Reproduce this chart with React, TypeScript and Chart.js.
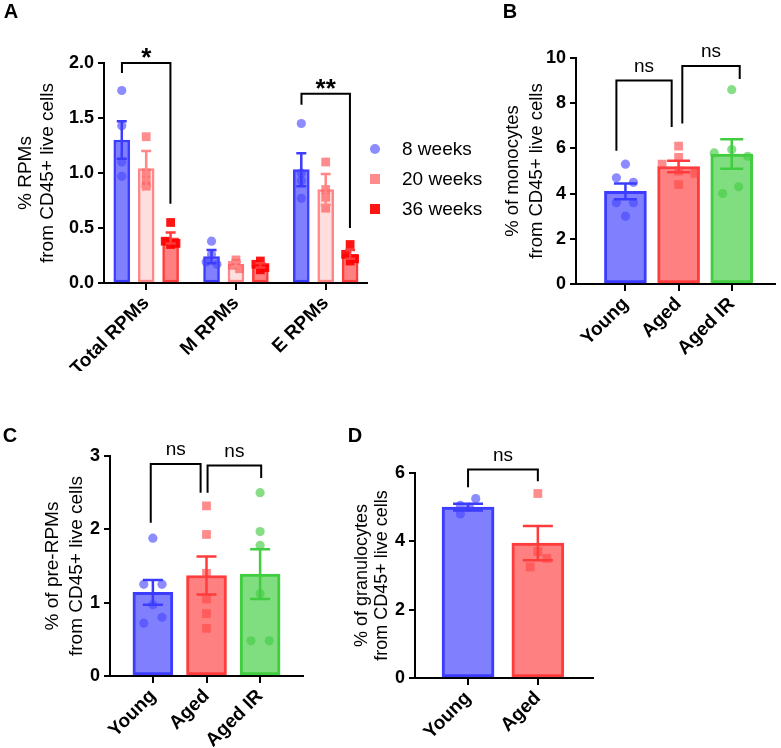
import React, { useEffect, useRef } from 'react';
import { Chart, registerables } from 'chart.js';

Chart.register(...registerables);

const FONT = '"Liberation Sans", Arial, Helvetica, sans-serif';

// ---------------- Panel A: RPMs by age ----------------
const rpmCategories = ['Total RPMs', 'M RPMs', 'E RPMs'];
const ageGroups = ['8 weeks', '20 weeks', '36 weeks'];
const rpmMean8w = [1.30, 0.24, 1.03];
const rpmSem8w = [0.17, 0.06, 0.15];
const rpmPoints8w = [[1.75, 1.43, 1.10, 0.97], [0.38, 0.26, 0.19, 0.17], [1.45, 1.00, 0.93, 0.77]];
const rpmMean20w = [1.04, 0.17, 0.85];
const rpmSem20w = [0.16, 0.02, 0.14];
const rpmPoints20w = [[1.33, 1.00, 0.93, 0.88], [0.21, 0.18, 0.16, 0.13], [1.10, 0.85, 0.78, 0.68]];
const rpmMean36w = [0.41, 0.16, 0.26];
const rpmSem36w = [0.05, 0.02, 0.04];
const rpmPoints36w = [[0.55, 0.38, 0.36, 0.35], [0.20, 0.17, 0.14, 0.12], [0.35, 0.26, 0.22, 0.20]];

// ---------------- Panels B, C, D ----------------
const groupCategories = ['Young', 'Aged', 'Aged IR'];
const monoMean = [4.1, 5.2, 5.75];
const monoSem = [0.35, 0.25, 0.65];
const monoPoints = [[5.3, 4.7, 4.5, 3.6, 3.6, 3.0], [6.1, 5.6, 5.3, 5.0, 4.9, 4.4], [8.6, 5.95, 5.8, 5.65, 4.3, 4.0]];

const preMean = [1.14, 1.37, 1.39];
const preSem = [0.17, 0.26, 0.34];
const prePoints = [[1.88, 1.25, 1.25, 0.97, 0.80, 0.72], [2.32, 1.93, 1.40, 1.05, 0.85, 0.65], [2.50, 1.97, 1.78, 1.12, 0.48, 0.48]];

const granCategories = ['Young', 'Aged'];
const granMean = [5.0, 3.95];
const granSem = [0.1, 0.5];
const granPoints = [[5.25, 5.05, 5.0, 4.8], [5.4, 3.7, 3.5, 3.25]];

// significance annotations (data units)
const rpmSignif = [
  { x1: -0.27, x2: 0.27, y1: 1.91, top: 2.0, y2: 0.72, text: '*' },
  { x1: 1.73, x2: 2.27, y1: 1.62, top: 1.72, y2: 0.5, text: '**' },
];
const monoSignif = [
  { x1: -0.17, x2: 0.87, y1: 5.9, top: 9.0, y2: 6.95, text: 'ns' },
  { x1: 1.07, x2: 2.15, y1: 7.1, top: 9.65, y2: 9.07, text: 'ns' },
];
const preSignif = [
  { x1: -0.04, x2: 0.89, y1: 2.09, top: 2.89, y2: 2.5, text: 'ns' },
  { x1: 1.02, x2: 2.02, y1: 2.5, top: 2.87, y2: 2.7, text: 'ns' },
];
const granSignif = [{ x1: 0, x2: 1, y1: 5.58, top: 6.1, y2: 5.76, text: 'ns' }];

// ---------------- styles ----------------
type Style = { fill: string; border: string; dot: string; shape: 'circle' | 'rect' };
const BLUE: Style = { fill: 'rgb(128,128,255)', border: 'rgb(60,60,255)', dot: 'rgba(70,70,255,0.62)', shape: 'circle' };
const PINK: Style = { fill: 'rgb(255,222,222)', border: 'rgb(255,135,135)', dot: 'rgba(255,95,95,0.72)', shape: 'rect' };
const RED36: Style = { fill: 'rgb(255,128,128)', border: 'rgb(255,60,60)', dot: 'rgba(255,0,0,0.92)', shape: 'rect' };
const AGED: Style = { fill: 'rgb(255,128,128)', border: 'rgb(255,60,60)', dot: 'rgba(255,70,70,0.62)', shape: 'rect' };
const IR: Style = { fill: 'rgb(128,222,128)', border: 'rgb(64,205,64)', dot: 'rgba(70,205,70,0.65)', shape: 'circle' };

type Series = {
  label: string; cats: number[]; offset: number; mean: number[]; sem: number[];
  points: number[][]; style: Style; jitter: number[][];
};
type Panel = {
  letter: string; letterPos: [number, number];
  canvas: { left: number; top: number; width: number; height: number };
  plot: { l: number; r: number; t: number; b: number };
  yWidth: number;
  categories: string[]; xMin: number; xMax: number;
  yMax: number; yStep: number; yDec: number;
  yTitle: string[]; yTitleX: [number, number]; yTitleSize: number;
  series: Series[]; barWidth: number; capWidth: number; barBorder: number;
  brackets: { x1: number; x2: number; y1: number; top: number; y2: number; text: string }[];
  legend?: boolean;
};

const zeros = (n: number) => new Array(n).fill(0);

const single = (cats: string[], means: number[], sems: number[], pts: number[][], styles: Style[], jit: number[][]): Series[] =>
  cats.map((c, i) => ({
    label: c, cats: [i], offset: 0, mean: [means[i]], sem: [sems[i]], points: [pts[i]], style: styles[i], jitter: [jit[i]],
  }));

const panels: Panel[] = [
  {
    letter: 'A', letterPos: [11, 12],
    canvas: { left: 0, top: 0, width: 495, height: 372 },
    plot: { l: 104, r: 367, t: 63, b: 283 }, yWidth: 80,
    categories: rpmCategories, xMin: -0.47, xMax: 2.46,
    yMax: 2.0, yStep: 0.5, yDec: 1,
    yTitle: ['% RPMs', 'from CD45+ live cells'], yTitleX: [26, 48], yTitleSize: 19,
    series: [
      { label: ageGroups[0], cats: [0, 1, 2], offset: -0.272, mean: rpmMean8w, sem: rpmSem8w, points: rpmPoints8w, style: BLUE,
        jitter: [zeros(4), [0, 0, -0.06, 0.06], zeros(4)] },
      { label: ageGroups[1], cats: [0, 1, 2], offset: 0, mean: rpmMean20w, sem: rpmSem20w, points: rpmPoints20w, style: PINK,
        jitter: [zeros(4), [0, 0, -0.04, 0.04], zeros(4)] },
      { label: ageGroups[2], cats: [0, 1, 2], offset: 0.272, mean: rpmMean36w, sem: rpmSem36w, points: rpmPoints36w, style: RED36,
        jitter: [[0, -0.06, 0.06, 0], [0, -0.05, 0.05, 0], [0, -0.05, 0.05, 0]] },
    ],
    barWidth: 16, capWidth: 10, barBorder: 2.5,
    brackets: rpmSignif, legend: true,
  },
  {
    letter: 'B', letterPos: [510, 12],
    canvas: { left: 495, top: 0, width: 286, height: 372 },
    plot: { l: 576, r: 778, t: 58, b: 284 }, yWidth: 50,
    categories: groupCategories, xMin: -0.93, xMax: 2.81,
    yMax: 10, yStep: 2, yDec: 0,
    yTitle: ['% of monocytes', 'from CD45+ live cells'], yTitleX: [513, 537], yTitleSize: 18.5,
    series: single(groupCategories, monoMean, monoSem, monoPoints, [BLUE, AGED, IR], [
      [0, -0.17, 0.15, -0.17, 0.15, 0],
      [0, 0, -0.31, 0, 0.31, 0],
      [0, 0, -0.33, 0.3, 0.13, -0.17],
    ]),
    barWidth: 42, capWidth: 23, barBorder: 3,
    brackets: monoSignif,
  },
  {
    letter: 'C', letterPos: [10, 436],
    canvas: { left: 0, top: 372, width: 330, height: 376 },
    plot: { l: 110, r: 303, t: 456, b: 676 }, yWidth: 50,
    categories: groupCategories, xMin: -0.80, xMax: 2.80,
    yMax: 3, yStep: 1, yDec: 0,
    yTitle: ['% of pre-RPMs', 'from CD45+ live cells'], yTitleX: [53, 77], yTitleSize: 19,
    series: single(groupCategories, preMean, preSem, prePoints, [BLUE, AGED, IR], [
      [0, -0.17, 0.17, 0, 0.17, -0.17],
      zeros(6),
      [0, 0, 0, 0, -0.17, 0.17],
    ]),
    barWidth: 40, capWidth: 20, barBorder: 3,
    brackets: preSignif,
  },
  {
    letter: 'D', letterPos: [355, 436],
    canvas: { left: 330, top: 372, width: 451, height: 376 },
    plot: { l: 415, r: 593, t: 473, b: 678 }, yWidth: 50,
    categories: granCategories, xMin: -0.76, xMax: 1.79,
    yMax: 6, yStep: 2, yDec: 0,
    yTitle: ['% of granulocytes', 'from CD45+ live cells'], yTitleX: [362, 382], yTitleSize: 18,
    series: single(granCategories, granMean, granSem, granPoints, [BLUE, AGED], [
      [0.11, -0.11, 0.02, -0.11],
      [0, 0, 0.13, -0.11],
    ]),
    barWidth: 52, capWidth: 30, barBorder: 3,
    brackets: granSignif,
  },
];

function buildChart(canvas: HTMLCanvasElement, p: Panel) {
  const wy = p.yWidth;
  const hx = p.canvas.top + p.canvas.height - p.plot.b - 1;
  const padding = {
    left: p.plot.l - p.canvas.left - wy,
    top: p.plot.t - p.canvas.top,
    right: p.canvas.left + p.canvas.width - p.plot.r,
    bottom: 1,
  };
  const ox = p.canvas.left;
  const oy = p.canvas.top;

  const datasets: any[] = [];
  p.series.forEach((s) => {
    datasets.push({
      type: 'bar',
      label: s.label,
      data: s.cats.map((c, i) => ({ x: c + s.offset, y: s.mean[i] })),
      backgroundColor: s.style.fill,
      borderColor: s.style.border,
      borderWidth: p.barBorder,
      borderSkipped: false,
      barThickness: p.barWidth,
      grouped: false,
      order: 3,
      sem: s.sem,
    });
    const pts: { x: number; y: number }[] = [];
    s.cats.forEach((c, i) => {
      s.points[i].forEach((v, k) => pts.push({ x: c + s.offset + (s.jitter[i]?.[k] ?? 0), y: v }));
    });
    datasets.push({
      type: 'scatter',
      label: s.label + ' points',
      data: pts,
      backgroundColor: s.style.dot,
      borderWidth: 0,
      pointStyle: s.style.shape,
      pointRadius: s.style.shape === 'rect' ? 6.2 : 4.6,
      order: 1,
    });
  });

  const decor = {
    id: 'decor',
    afterDatasetsDraw(chart: any) {
      const ctx = chart.ctx;
      const xs = chart.scales.x;
      const ys = chart.scales.y;
      ctx.save();
      chart.data.datasets.forEach((ds: any) => {
        if (!ds.sem) return;
        ctx.strokeStyle = ds.borderColor;
        ctx.lineWidth = 2.5;
        ds.data.forEach((d: any, i: number) => {
          const x = xs.getPixelForValue(d.x);
          const yt = ys.getPixelForValue(d.y + ds.sem[i]);
          const yb = ys.getPixelForValue(Math.max(0, d.y - ds.sem[i]));
          const hw = p.capWidth / 2;
          ctx.beginPath();
          ctx.moveTo(x, yt); ctx.lineTo(x, yb);
          ctx.moveTo(x - hw, yt); ctx.lineTo(x + hw, yt);
          ctx.moveTo(x - hw, yb); ctx.lineTo(x + hw, yb);
          ctx.stroke();
        });
      });
      ctx.restore();
    },
    afterDraw(chart: any) {
      const ctx = chart.ctx;
      const xs = chart.scales.x;
      const ys = chart.scales.y;
      ctx.save();
      ctx.fillStyle = '#000';
      // panel letter
      ctx.font = `bold 20px ${FONT}`;
      ctx.textAlign = 'center';
      ctx.textBaseline = 'middle';
      ctx.fillText(p.letter, p.letterPos[0] - ox, p.letterPos[1] - oy);
      // y title
      const cy = (p.plot.t + p.plot.b) / 2 - oy;
      ctx.font = `${p.yTitleSize}px ${FONT}`;
      p.yTitle.forEach((line, i) => {
        ctx.save();
        ctx.translate(p.yTitleX[i] - ox, cy);
        ctx.rotate(-Math.PI / 2);
        ctx.fillText(line, 0, 0);
        ctx.restore();
      });
      // brackets
      ctx.strokeStyle = '#000';
      ctx.lineWidth = 2;
      p.brackets.forEach((b) => {
        const x1 = xs.getPixelForValue(b.x1);
        const x2 = xs.getPixelForValue(b.x2);
        const yTop = ys.getPixelForValue(b.top);
        ctx.beginPath();
        ctx.moveTo(x1, ys.getPixelForValue(b.y1));
        ctx.lineTo(x1, yTop);
        ctx.lineTo(x2, yTop);
        ctx.lineTo(x2, ys.getPixelForValue(b.y2));
        ctx.stroke();
        ctx.textAlign = 'center';
        ctx.textBaseline = 'alphabetic';
        if (b.text.startsWith('*')) {
          ctx.font = `bold 26px ${FONT}`;
          ctx.fillText(b.text, (x1 + x2) / 2, yTop + 3);
        } else {
          ctx.font = `19px ${FONT}`;
          ctx.fillText(b.text, (x1 + x2) / 2, yTop - 9);
        }
      });
      // legend
      if (p.legend) {
        const lx = 375 - ox;
        const ly = [149, 179, 209];
        p.series.forEach((s, i) => {
          ctx.fillStyle = s.style.dot;
          if (s.style.shape === 'circle') {
            ctx.beginPath();
            ctx.arc(lx, ly[i] - oy, 5, 0, Math.PI * 2);
            ctx.fill();
          } else {
            ctx.fillRect(lx - 5, ly[i] - oy - 5, 10, 10);
          }
          ctx.fillStyle = '#000';
          ctx.font = `19px ${FONT}`;
          ctx.textAlign = 'left';
          ctx.textBaseline = 'middle';
          ctx.fillText(s.label, 402 - ox, ly[i] + 1 - oy);
        });
      }
      ctx.restore();
    },
  };

  return new Chart(canvas, {
    type: 'bar',
    data: { datasets },
    options: {
      animation: false,
      responsive: false,
      maintainAspectRatio: false,
      devicePixelRatio: 1,
      layout: { padding },
      plugins: { legend: { display: false }, tooltip: { enabled: false }, title: { display: false } },
      scales: {
        x: {
          type: 'linear',
          offset: false,
          min: p.xMin,
          max: p.xMax,
          afterBuildTicks: (scale: any) => {
            scale.ticks = p.categories.map((_, i) => ({ value: i }));
          },
          afterFit: (scale: any) => { scale.height = hx; },
          ticks: {
            autoSkip: false,
            minRotation: 45,
            maxRotation: 45,
            padding: 2,
            color: '#000',
            font: { family: FONT, size: 19, weight: 'bold' },
            callback: (v: any) => p.categories[Math.round(Number(v))] ?? '',
          },
          grid: { offset: false, drawOnChartArea: false, drawTicks: true, tickLength: 7, color: '#000', lineWidth: 2 },
          border: { display: true, color: '#000', width: 2 },
        },
        y: {
          type: 'linear',
          min: 0,
          max: p.yMax,
          afterFit: (scale: any) => { scale.width = wy; },
          ticks: {
            stepSize: p.yStep,
            padding: 4,
            color: '#000',
            font: { family: FONT, size: 18, weight: 'bold' },
            callback: (v: any) => Number(v).toFixed(p.yDec),
          },
          grid: { drawOnChartArea: false, drawTicks: true, tickLength: 6, color: '#000', lineWidth: 2 },
          border: { display: true, color: '#000', width: 2 },
        },
      },
    } as any,
    plugins: [decor],
  });
}

function PanelCanvas({ p }: { p: Panel }) {
  const ref = useRef<HTMLCanvasElement | null>(null);
  useEffect(() => {
    if (!ref.current) return;
    const chart = buildChart(ref.current, p);
    return () => chart.destroy();
  }, [p]);
  return (
    <canvas
      ref={ref}
      width={p.canvas.width}
      height={p.canvas.height}
      style={{
        position: 'absolute',
        left: p.canvas.left,
        top: p.canvas.top,
        width: p.canvas.width,
        height: p.canvas.height,
      }}
    />
  );
}

export default function App() {
  return (
    <div style={{ position: 'absolute', left: 0, top: 0, width: 781, height: 748, background: '#fff', overflow: 'hidden' }}>
      {panels.map((p) => (
        <PanelCanvas key={p.letter} p={p} />
      ))}
    </div>
  );
}
